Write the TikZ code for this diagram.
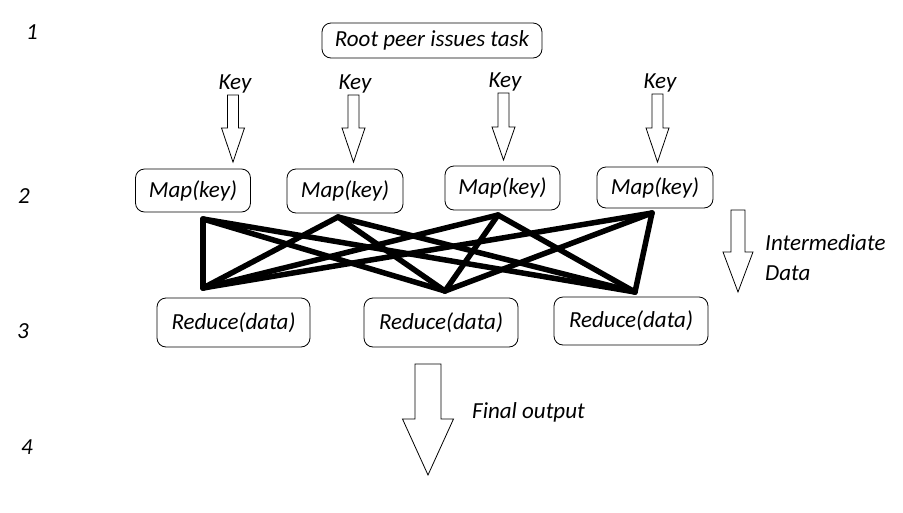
\documentclass[tikz,border=0pt]{standalone}
\usepackage{fontspec}
\setmainfont{Carlito}
\usetikzlibrary{calc}
\newcommand\blockarr[6]{% x, top, headstart, tip, shaft half, head half
  \draw[blockarrow] (#1-#5,#2) -- (#1+#5,#2) -- (#1+#5,#3) -- (#1+#6,#3) -- (#1,#4) -- (#1-#6,#3) -- (#1-#5,#3) -- cycle;}
\begin{document}
\begin{tikzpicture}[x=1pt,y=-1pt,
  lbl/.style={font=\fontsize{23}{25}\selectfont\itshape, inner sep=0pt},
  box/.style={draw, line width=0.8pt, rounded corners=9pt, inner sep=0pt, font=\fontsize{23}{25}\selectfont\itshape},
  blockarrow/.style={draw, line width=0.8pt, fill=white, line join=miter},
  link/.style={line width=5.5pt, line cap=round, line join=round}]
\useasboundingbox (0,0) rectangle (903,512);
\fill[white] (0,0) rectangle (903,512);

% step numbers
\node[lbl, anchor=base] (n1) at (32,39) {1};
\node[lbl, anchor=base] (n2) at (24,203) {2};
\node[lbl, anchor=base] (n3) at (23,338) {3};
\node[lbl, anchor=base] (n4) at (27,454) {4};

% root
\node[box, minimum width=220pt, minimum height=35pt] (root) at (432,40.5) {Root peer issues task};

% keys
\node[lbl, anchor=base] (k1) at (235,89) {Key};
\node[lbl, anchor=base] (k2) at (355,89) {Key};
\node[lbl, anchor=base] (k3) at (505,87) {Key};
\node[lbl, anchor=base] (k4) at (660,88) {Key};

\blockarr{233}{95}{128}{162}{5.5}{11.5}
\blockarr{353.5}{95}{128}{162}{5.5}{11.5}
\blockarr{503.5}{93}{127}{160}{5.5}{11.5}
\blockarr{657.5}{94}{128}{162}{5.5}{11.5}

% map boxes
\node[box, minimum width=115pt, minimum height=43pt] (m1) at (193,190.5) {Map(key)};
\node[box, minimum width=116pt, minimum height=44pt] (m2) at (345,191) {Map(key)};
\node[box, minimum width=115pt, minimum height=44pt] (m3) at (502.5,188) {Map(key)};
\node[box, minimum width=116pt, minimum height=41pt] (m4) at (655,187.5) {Map(key)};

% reduce boxes
\node[box, minimum width=153pt, minimum height=49pt] (r1) at (233.5,322.5) {Reduce(data)};
\node[box, minimum width=154pt, minimum height=49pt] (r2) at (441,322.5) {Reduce(data)};
\node[box, minimum width=154pt, minimum height=48pt] (r3) at (631,321) {Reduce(data)};

% link endpoints
\coordinate (t1) at (203,219);
\coordinate (t2) at (338,217);
\coordinate (t3) at (498,215);
\coordinate (t4) at (652,213);
\coordinate (b1) at (203,288);
\coordinate (b2) at (445,291);
\coordinate (b3) at (635,292);

\foreach \t in {t1,t2,t3,t4}{
  \foreach \b in {b1,b2,b3}{
    \draw[link] (\t) -- (\b);
  }
}

% intermediate data
\blockarr{738}{210}{252}{292}{7}{15}
\node[lbl, anchor=base west] (inter) at (765,250) {Intermediate};
\node[lbl, anchor=base west] (data) at (765,280) {Data};

% final output
\blockarr{428}{364}{419}{475}{13}{25.5}
\node[lbl, anchor=base west] (final) at (472,418) {Final output};
\end{tikzpicture}
\end{document}
